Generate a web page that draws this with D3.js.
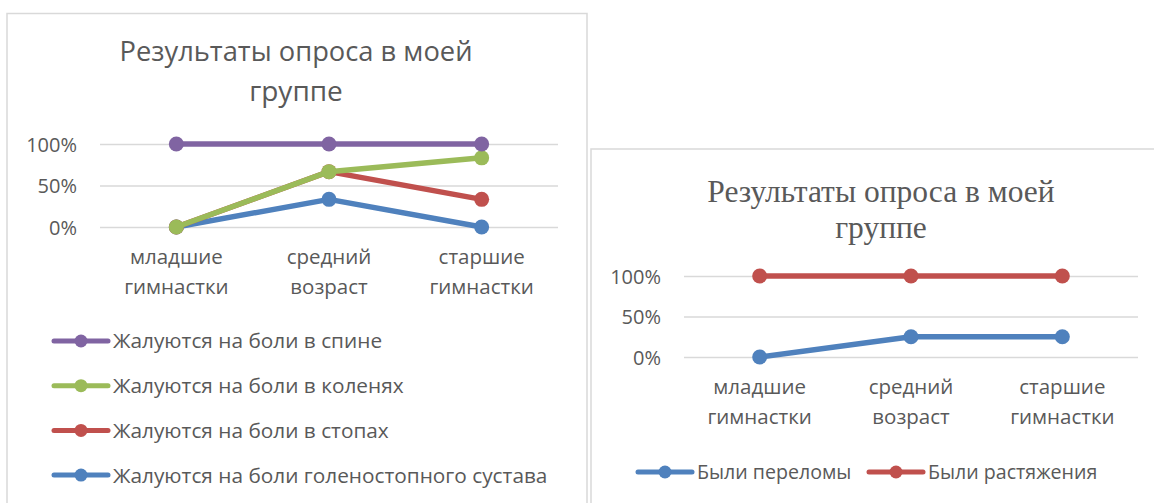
<!DOCTYPE html>
<html><head><meta charset="utf-8">
<script src="https://cdn.jsdelivr.net/npm/d3@7"></script>
<style>
html,body{margin:0;padding:0;background:#fff;}
svg{display:block;}
</style></head>
<body>
<svg id="c" width="1154" height="503"></svg>
<script>
// ---------- data ----------
const categories = [["младшие","гимнастки"],["средний","возраст"],["старшие","гимнастки"]];
const catKeys = ["младшие гимнастки","средний возраст","старшие гимнастки"];
const yTicks = [0, 0.5, 1];

// left chart series
const backPain   = [1, 1, 1];          // Жалуются на боли в спине
const kneePain   = [0, 0.667, 0.833];  // Жалуются на боли в коленях
const footPain   = [0, 0.667, 0.333];  // Жалуются на боли в стопах
const anklePain  = [0, 0.333, 0];      // Жалуются на боли голеностопного сустава

// right chart series
const fractures  = [0, 0.25, 0.25];    // Были переломы
const sprains    = [1, 1, 1];          // Были растяжения

const title = ["Результаты опроса в моей", "группе"];

const C = {purple:"#8064A2", green:"#9BBB59", red:"#C0504D", blue:"#4F81BD",
           text:"#595959", grid:"#D9D9D9", border:"#D9D9D9"};

const svg = d3.select("#c");
const sans = "'Open Sans', 'Noto Sans', sans-serif";

function fit(t, w){ const n=t.node(); const L=n.getComputedTextLength(); if(L>w*1.01 || L<w*0.97){ t.attr("textLength", w).attr("lengthAdjust","spacingAndGlyphs"); } }

// ---------- chart borders ----------
svg.append("rect").attr("x",7).attr("y",13.5).attr("width",580).attr("height",520)
   .attr("fill","#fff").attr("stroke",C.border).attr("stroke-width",1.5);
svg.append("rect").attr("x",591).attr("y",149).attr("width",600).attr("height",400)
   .attr("fill","#fff").attr("stroke",C.border).attr("stroke-width",1.5);

function drawChart(opt){
  const g = svg.append("g");
  const x = d3.scaleBand().domain(catKeys).range(opt.xr);
  const y = d3.scaleLinear().domain([0,1]).range(opt.yr);
  const cx = k => x(k) + x.bandwidth()/2;

  // title
  opt.titleLines.forEach((s,i)=>{
    const t = g.append("text").attr("x",opt.tcx).attr("y",opt.tBase[i])
      .attr("text-anchor","middle").attr("fill",C.text)
      .attr("font-family",opt.tFont).attr("font-size",opt.tSize).text(s);
    fit(t, opt.tW[i]);
  });

  // y axis with gridlines
  const ax = g.append("g").attr("transform",`translate(${opt.xr[0]},0)`)
    .call(d3.axisLeft(y).tickValues(yTicks).tickFormat(d3.format(".0%"))
      .tickSize(-(opt.xr[1]-opt.xr[0])).tickPadding(23));
  ax.select(".domain").remove();
  ax.selectAll(".tick line").attr("stroke",C.grid).attr("stroke-width",1.5);
  ax.selectAll(".tick text").attr("fill",C.text).attr("font-family",sans)
    .attr("font-size",20).attr("dy","0.36em");

  // category labels
  categories.forEach((lines,i)=>{
    lines.forEach((s,j)=>{
      g.append("text").attr("x",cx(catKeys[i])).attr("y",opt.catBase + j*30)
        .attr("text-anchor","middle").attr("fill",C.text)
        .attr("font-family",sans).attr("font-size",20.5).text(s);
    });
  });

  // series
  const line = d3.line().x((d,i)=>cx(catKeys[i])).y(d=>y(d));
  opt.series.forEach(s=>{
    g.append("path").datum(s.values).attr("d",line).attr("fill","none")
      .attr("stroke",s.color).attr("stroke-width",5.5).attr("stroke-linejoin","round");
    g.selectAll(null).data(s.values).join("circle")
      .attr("cx",(d,i)=>cx(catKeys[i])).attr("cy",d=>y(d)).attr("r",7.5).attr("fill",s.color);
  });
  return g;
}

function legendItem(g, x0, yc, color, label, fs){
  g.append("line").attr("x1",x0).attr("x2",x0+54).attr("y1",yc).attr("y2",yc)
    .attr("stroke",color).attr("stroke-width",5).attr("stroke-linecap","round");
  g.append("circle").attr("cx",x0+27).attr("cy",yc).attr("r",6.5).attr("fill",color);
  g.append("text").attr("x",x0+59).attr("y",yc).attr("dy","0.36em").attr("fill",C.text)
    .attr("font-family",sans).attr("font-size",fs).text(label);
}

// ---------- left chart ----------
const leftSeries = [
  {name:"Жалуются на боли голеностопного сустава", values:anklePain, color:C.blue},
  {name:"Жалуются на боли в стопах", values:footPain, color:C.red},
  {name:"Жалуются на боли в коленях", values:kneePain, color:C.green},
  {name:"Жалуются на боли в спине", values:backPain, color:C.purple}
];
const gl = drawChart({xr:[100,558], yr:[227,144], titleLines:title, tcx:296,
  tBase:[61,101], tW:[353,93], tFont:sans, tSize:28, catBase:264, series:leftSeries});
leftSeries.slice().reverse().forEach((s,i)=>legendItem(gl, 54, 341 + i*44.7, s.color, s.name, 20.8));

// ---------- right chart ----------
const rightSeries = [
  {name:"Были переломы", values:fractures, color:C.blue},
  {name:"Были растяжения", values:sprains, color:C.red}
];
const gr = drawChart({xr:[684,1138], yr:[357,276], titleLines:title, tcx:881,
  tBase:[202,238], tW:[348,92], tFont:"'Liberation Serif','Times New Roman',serif", tSize:31.5,
  catBase:394, series:rightSeries});
legendItem(gr, 638, 472, C.blue, rightSeries[0].name, 19.6);
legendItem(gr, 869, 472, C.red, rightSeries[1].name, 19.6);
</script>
</body></html>
